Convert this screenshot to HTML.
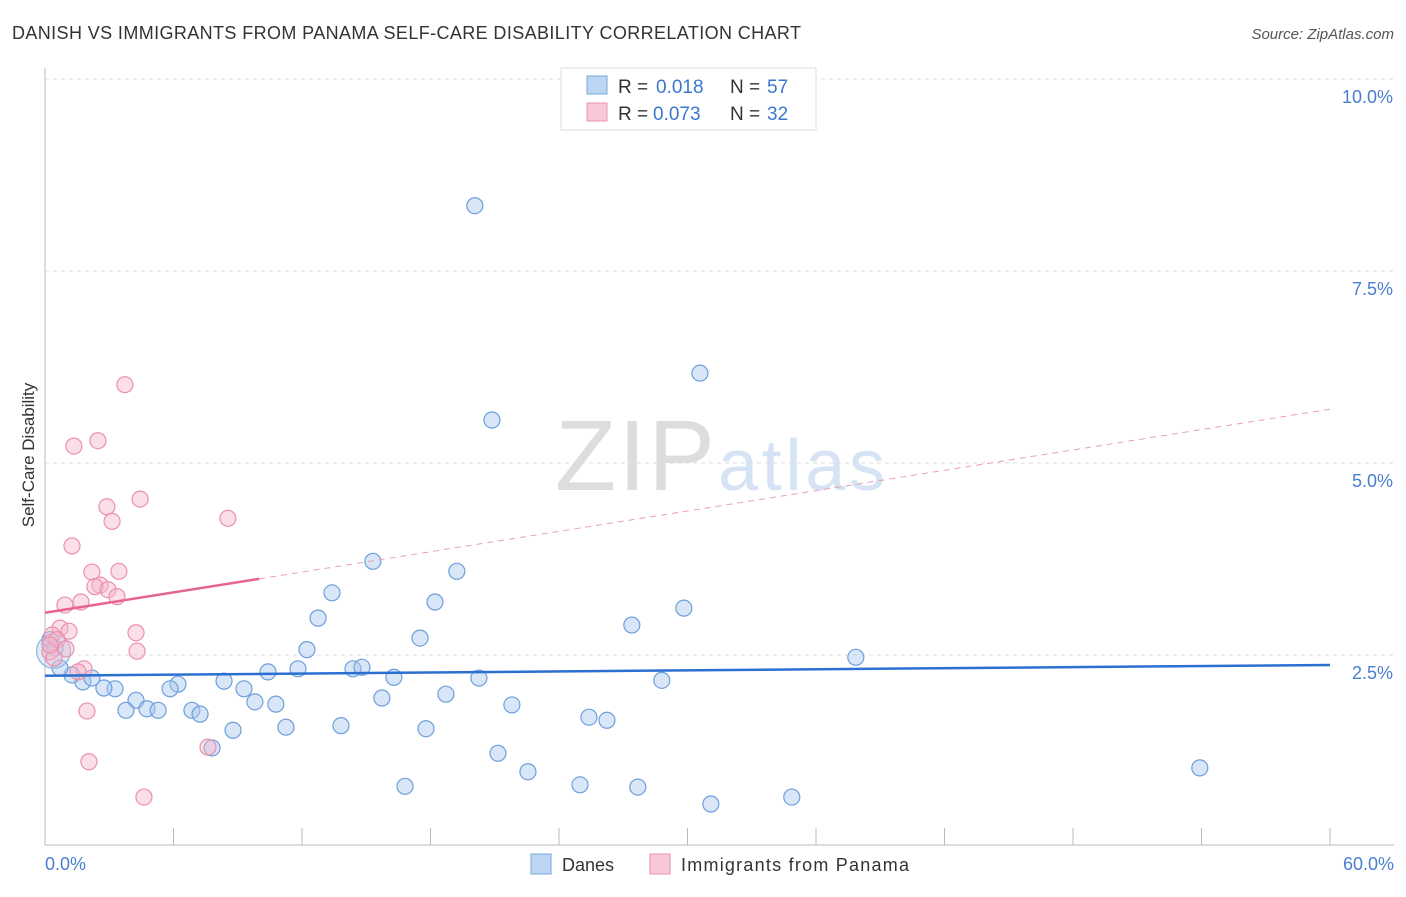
<!DOCTYPE html>
<html><head><meta charset="utf-8"><style>
body{margin:0;background:#fff;font-family:"Liberation Sans",sans-serif;}
svg text{font-family:"Liberation Sans",sans-serif;}
</style></head><body>
<svg id="chart" width="1406" height="892">
<text x="12" y="39" font-size="18" fill="#333" textLength="789">DANISH VS IMMIGRANTS FROM PANAMA SELF-CARE DISABILITY CORRELATION CHART</text>
<text x="1394" y="39" font-size="15" fill="#555" font-style="italic" text-anchor="end">Source: ZipAtlas.com</text>
<text x="715" y="490" font-size="100" fill="#ddd" font-family="Liberation Serif" text-anchor="end" textLength="160">ZIP</text>
<text x="718" y="490" font-size="72" fill="#d5e3f5" textLength="167">atlas</text>
<g id="grid"></g>
<line x1="45" y1="68" x2="45" y2="845" stroke="#bbb"/>
<line x1="45" y1="845" x2="1394" y2="845" stroke="#bbb"/>
<g id="ticks"></g>
<text x="34" y="455" font-size="17" fill="#333" text-anchor="middle" transform="rotate(-90 34 455)">Self-Care Disability</text>
<text x="45" y="870" font-size="18" fill="#4a7fd0">0.0%</text>
<text x="1394" y="870" font-size="18" fill="#4a7fd0" text-anchor="end">60.0%</text>
<g id="pts"></g>
<g id="lines"></g>
<g>
<rect x="561" y="68" width="255" height="62" fill="#fff" stroke="#ddd"/>
<rect x="587" y="76" width="20" height="18" fill="#bcd5f3" stroke="#7aa7de"/>
<text x="618" y="93" font-size="19" fill="#333">R =</text>
<text x="656" y="93" font-size="19" fill="#3a78d0">0.018</text>
<text x="730" y="93" font-size="19" fill="#333">N =</text>
<text x="767" y="93" font-size="19" fill="#3a78d0">57</text>
<rect x="587" y="103" width="20" height="18" fill="#f9c8d7" stroke="#ee90ad"/>
<text x="618" y="120" font-size="19" fill="#333">R =</text>
<text x="653" y="120" font-size="19" fill="#3a78d0">0.073</text>
<text x="730" y="120" font-size="19" fill="#333">N =</text>
<text x="767" y="120" font-size="19" fill="#3a78d0">32</text>
</g>
<g>
<rect x="531" y="854" width="20" height="20" fill="#bcd5f3" stroke="#7aa7de"/>
<text x="562" y="871" font-size="18" fill="#333">Danes</text>
<rect x="650" y="854" width="20" height="20" fill="#f9c8d7" stroke="#ee90ad"/>
<text x="681" y="871" font-size="18" fill="#333" textLength="228">Immigrants from Panama</text>
</g>
</svg>
<script>
const yTicks=[2.5,5.0,7.5,10.0];
const yTickLabels=["2.5%","5.0%","7.5%","10.0%"];
const xTicks=[0,6,12,18,24,30,36,42,48,54,60];
const danesX=[20.07,30.58,20.87,15.31,19.23,13.40,18.21,29.83,12.75,27.40,17.51,12.23,37.86,14.38,14.80,11.81,10.41,16.29,20.26,28.80,8.36,6.21,9.29,5.84,3.27,2.75,1.77,2.19,1.26,0.70,0.23,0.47,18.72,15.73,4.25,9.80,10.78,21.80,3.78,4.76,5.28,6.86,7.24,25.40,26.24,11.25,13.82,17.79,8.78,7.80,21.15,53.92,22.55,16.81,24.98,27.68,34.87,31.09];
const danesY=[8.35,6.17,5.56,3.72,3.59,3.31,3.19,3.11,2.98,2.89,2.72,2.57,2.47,2.32,2.34,2.32,2.28,2.21,2.20,2.17,2.16,2.12,2.06,2.06,2.06,2.07,2.15,2.20,2.24,2.33,2.70,2.59,1.99,1.94,1.91,1.89,1.86,1.85,1.78,1.80,1.78,1.78,1.73,1.69,1.65,1.56,1.58,1.54,1.52,1.29,1.22,1.03,0.98,0.79,0.81,0.78,0.65,0.56];
const panX=[3.73,2.47,1.35,4.44,2.89,3.13,8.54,1.26,2.19,3.45,2.57,2.33,2.94,3.36,0.93,1.68,0.70,1.12,0.33,0.56,0.98,0.23,0.42,4.25,4.30,1.82,1.54,1.96,7.61,2.05,4.62,0.23];
const panY=[6.02,5.29,5.22,4.53,4.43,4.24,4.28,3.92,3.58,3.59,3.41,3.39,3.35,3.26,3.15,3.19,2.85,2.81,2.76,2.70,2.58,2.54,2.46,2.79,2.55,2.32,2.28,1.77,1.30,1.11,0.65,2.63];
const danesTrend=[2.23,2.37];
const panTrend=[3.05,5.70];
const NS='http://www.w3.org/2000/svg';
const X=v=>45+v*(1285/60);
const Y=v=>847-v*76.8;
function mk(t,a,p){const e=document.createElementNS(NS,t);for(const k in a)e.setAttribute(k,a[k]);document.getElementById(p).appendChild(e);return e;}
yTicks.forEach((v,i)=>{
 const l=mk('line',{x1:45,x2:1394,y1:Y(v),y2:Y(v),stroke:'#ddd','stroke-dasharray':'4,4'},'grid');
 
 
 const t=mk('text',{x:1393,y:Y(v)+24,'font-size':18,fill:'#4a7fd0','text-anchor':'end'},'grid');
 t.textContent=yTickLabels[i];
 
 
});
xTicks.forEach(v=>{
 const l=mk('line',{x1:X(v),x2:X(v),y1:828,y2:845,stroke:'#bbb'},'ticks');
 
 
});
function dot(x,y,r,fill,stroke,name){
 const c=mk('circle',{cx:X(x),cy:Y(y),r:r,fill:fill,stroke:stroke,'stroke-width':1.2},'pts');
 
 
}
danesX.forEach((x,i)=>dot(x,danesY[i],8,'rgba(169,200,238,0.45)','#6d9fdc','dane-point'));
dot(0.4,2.55,17,'rgba(169,200,238,0.35)','#8fb2e2','dane-point');
panX.forEach((x,i)=>dot(x,panY[i],8,'rgba(245,184,203,0.45)','#ec8fab','panama-point'));
let l1=mk('line',{x1:X(0),y1:Y(danesTrend[0]),x2:X(60),y2:Y(danesTrend[1]),stroke:'#2b6fd1','stroke-width':2.5},'lines');


const pY=x=>panTrend[0]+(panTrend[1]-panTrend[0])*x/60;
let l2=mk('line',{x1:X(0),y1:Y(pY(0)),x2:X(10),y2:Y(pY(10)),stroke:'#e8638f','stroke-width':2.5},'lines');


let l3=mk('line',{x1:X(10),y1:Y(pY(10)),x2:X(60),y2:Y(pY(60)),stroke:'#e8a0b8','stroke-width':1,'stroke-dasharray':'6,5'},'lines');


</script>
</body></html>
